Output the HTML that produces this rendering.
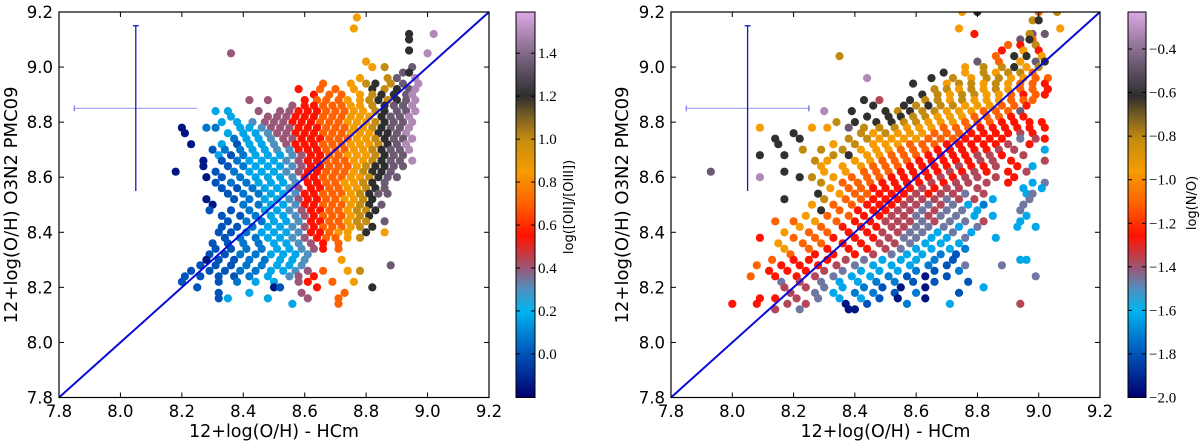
<!DOCTYPE html>
<html><head><meta charset="utf-8"><style>
html,body{margin:0;padding:0;background:#fff;}
svg{display:block;}
text{font-family:"DejaVu Sans","Liberation Sans",sans-serif;fill:#000;}
.cb{font-family:"Liberation Serif","DejaVu Serif",serif;font-size:15px;}
</style></head><body>
<svg id="fig" width="1200" height="447" viewBox="0 0 1200 447" xmlns="http://www.w3.org/2000/svg">
<defs id="defs"></defs>
</svg>
<script>
// ---------- shared data ----------
const axisTicks = [7.8, 8.0, 8.2, 8.4, 8.6, 8.8, 9.0, 9.2];
const axisTickLabels = ["7.8", "8.0", "8.2", "8.4", "8.6", "8.8", "9.0", "9.2"];
const colorKeys = ["a","b","c","d","e","f","g","h","i","j","k","l","m"];
const leftLevels = [-0.15, 0.0, 0.07, 0.17, 0.3, 0.4, 0.55, 0.7, 0.85, 1.0, 1.2, 1.35, 1.5];
const rightLevels = [-1.95, -1.80, -1.72, -1.63, -1.46, -1.37, -1.26, -1.11, -0.96, -0.81, -0.62, -0.47, -0.32];
const leftCbTicks = [0.0, 0.2, 0.4, 0.6, 0.8, 1.0, 1.2, 1.4];
const leftCbLabels = ["0.0", "0.2", "0.4", "0.6", "0.8", "1.0", "1.2", "1.4"];
const rightCbTicks = [-2.0, -1.8, -1.6, -1.4, -1.2, -1.0, -0.8, -0.6, -0.4];
const rightCbLabels = ["\u22122.0", "\u22121.8", "\u22121.6", "\u22121.4", "\u22121.2", "\u22121.0", "\u22120.8", "\u22120.6", "\u22120.4"];

// left panel: rows of y values, each with tokens "xyzC" => x = x.yz, color key C
const leftRowY = [9.18,9.14,9.12,9.10,9.06,9.05,9.02,9.00,8.98,8.96,8.94,8.92,8.90,8.88,8.86,8.84,8.82,8.80,8.78,8.76,8.74,8.72,8.70,8.68,8.66,8.64,8.62,8.60,8.58,8.56,8.54,8.52,8.50,8.48,8.46,8.44,8.42,8.40,8.38,8.36,8.34,8.32,8.30,8.28,8.26,8.24,8.22,8.20,8.18,8.16,8.14];
const leftRowPts = [
"877i","876i","902m 894k","894k","894k","836f 900m","880i","882i 886j 895l","892l 894k","887j 878i 896m 890l",
"866h 875i 880j 883k 888j 892l 897m",
"858g 865h 870h 876i 882k 886j 890k 894l 896m",
"863g 868h 872h 878i 882j 885k 889k 893l 895m",
"842f 848f 860g 864h 867h 871h 874i 878i 881j 884k 887j 890k 893l 896m",
"856f 860g 863g 866h 869h 872h 875i 878i 882j 886k 889l 892l 895m",
"831d 835d 845f 852f 855f 858g 861g 864g 867h 870h 873h 876i 879i 883j 886k 890l 893l 896m",
"836d 848f 851f 854f 857g 860g 863g 866h 869h 872h 875i 878i 881i 885k 888l 891l 894m",
"833d 838d 843e 847f 850f 853f 856g 859g 862g 865h 868h 871h 874i 877i 880i 883j 886k 889l 892l 895m",
"820a 828c 831c 839d 842d 846e 849f 852f 855f 858g 861g 864g 867h 870h 873h 876i 879i 882j 885k 888l 891l 894m",
"821a 835d 840d 844d 848e 851f 854f 857g 860g 863g 866h 869h 872h 875i 878i 881i 884k 887k 890l 893m",
"837c 841d 845d 849e 853f 856f 859g 862g 865g 868h 871h 874h 877i 880i 883j 886k 889l 892l 895m",
"823a 833d 838b 842d 846d 850e 854f 857g 860g 863g 866h 869h 872h 875i 878i 881i 884j 887k 890l 893m",
"830b 834c 839c 843d 847d 851e 855e 858g 861g 864g 867h 870h 873h 876i 879i 882j 885k 888l 891l 894m",
"832d 836b 840c 844d 848d 852d 856e 859f 862g 865g 868h 871h 874i 877i 880i 883j 886k 889l 892l",
"827a 833b 838c 842d 846d 850d 854e 858f 861g 864g 867h 870h 873h 876i 879i 882j 885k 888l 891l 895m",
"827a 835b 840c 844d 848d 852d 856e 859f 862g 865g 868h 871h 874h 877i 880j 883k 886k 889l 892l",
"818a 831b 837c 842d 846d 850d 854e 858f 861g 864g 867h 870h 873h 876i 879j 882k 885k 888l",
"828a 833b 839c 844d 848d 852d 856e 860g 863g 866h 869h 872h 875i 878i 881j 884k 887l 890l",
"831b 836c 841c 845d 849d 853d 857e 861g 864g 867h 870h 873i 876i 879j 882k 886l",
"833b 838b 843c 847d 851d 855e 858f 862g 865g 868h 871h 874i 877i 880j 883k 886l",
"835b 840c 845c 849d 853d 857e 860g 863g 866h 869h 872h 875i 878j 881k 884l 887l",
"828a 837b 842c 847d 851d 855e 858f 861g 864g 867h 870h 873i 876i 879j 882k",
"830a 840c 845c 849d 853d 857e 860g 863g 866h 869h 872h 875i 878j 881k 885l",
"829b 836b 842c 847d 851d 855e 859f 862g 865g 868h 871h 874i 877j 880j 883k",
"833b 839b 844c 849d 853d 857e 860f 863g 866h 869h 872h 875i 878j 881k",
"835b 841c 846c 850d 854d 858e 862g 865g 868h 871h 874i 877j 880j 886l",
"833b 838b 843c 848d 852d 856e 860f 863g 866h 869h 872h 875i 878j 882k",
"832b 836b 841c 846d 850d 854d 858e 862g 865g 868h 871i 874i 880k 886i",
"834b 839c 844c 848d 852d 856e 860f 864g 867h 870h 874i 878j",
"830b 835b 840c 845c 850d 854d 858e 862f 866g 871h",
"831b 836b 841c 846c 851d 855d 859e 863f 866g 871h",
"829b 834b 839c 844c 849d 853d 857d 861e",
"828a 832b 837b 842c 847c 852d 856d 860e 872i",
"826b 831b 836b 841c 846c 851d 855d 859e 888l",
"823b 829b 834b 839c 844c 849d 853d 857e 861f 866h 878j 874i",
"821b 826b 832b 837b 842c 848d 855e 858f 863g",
"820b 832b 838c 844d 850d 858f 861g 869h 876i",
"825b 850a 852b 864g 882k",
"832b 842d 873h 859f",
"832b 835d 848d 861f 871h",
"856d 871h"
];

// right panel
const rightRowY = [9.20,9.17,9.14,9.12,9.10,9.08,9.06,9.04,9.02,9.00,8.98,8.96,8.94,8.92,8.90,8.88,8.86,8.84,8.82,8.80,8.78,8.76,8.74,8.72,8.70,8.68,8.66,8.64,8.62,8.60,8.58,8.56,8.54,8.52,8.50,8.48,8.46,8.44,8.42,8.40,8.38,8.36,8.34,8.32,8.30,8.28,8.26,8.24,8.22,8.20,8.18,8.16,8.14,8.12];
const rightRowPts = [
"875i 880k 900h 906j","898j 900k","874i 907i","879g 898l 902l 897j","894l 898h 897k","890h 894g 899j","888g 895i 900g",
"835j 886h 892k 896k 901i","880l 887h 894i 899l 902k","876i 882j 888j 892k 896i 900j",
"869k 876i 882j 886i 890j 894j 898h",
"844m 865k 872j 878i 883j 887j 891i 895i 899h 903h",
"859k 870i 874j 878j 882i 886j 890i 894h 898h 902g",
"866j 870j 874i 878j 882i 886j 890i 894h 898h 903g",
"862k 867j 871i 875j 879j 883i 887i 891h 895g 899h 902g",
"843k 848f 858k 863j 867j 871i 875j 879i 883i 887i 891h 895h 898h",
"846k 856k 860j 864k 868j 872j 876i 880i 884i 888h 892h 896g",
"830m 839k 850k 854j 858k 862j 866j 870i 874i 878i 882h 886h 890h 894l",
"844k 851k 855k 859j 863j 867i 871i 875i 879h 883h 887h 891g 895g",
"834j 840k 847k 852k 856j 860j 864i 868i 872i 876h 880h 884h 888g 892g 897g 901g",
"809i 826i 831i 838l 843j 848j 853j 857i 861i 865i 869h 873h 877h 881g 885g 889g 893g 897g 902g",
"820k 842j 846i 850j 854i 858i 862i 866h 870h 874h 878g 882g 886g 890g 894f 898g",
"814k 822k 838j 844j 848i 852i 856i 860i 864h 868h 872h 876g 880g 884g 888g 894e 899f 902g",
"815k 833i 840j 846i 850i 854i 858h 862h 866h 870g 874g 878g 882g 886g 890f 897g",
"823j 829j 836j 842i 847i 851i 855h 859h 863h 867g 871g 875g 879g 883g 887f 892f 902d",
"817k 809k 833j 838k 844i 848i 852h 856h 860h 864g 868g 872g 876g 880f 884f 888g 895f",
"827j 831i 840i 845i 849h 853h 857h 861g 865g 869g 873g 877g 881f 885f 891g 902f",
"829i 836i 842i 846h 850h 854h 858g 862g 866g 870g 874f 878g 882g 886f 893g 898d",
"793l 817k 830i 837i 843h 847h 851h 855g 859g 863g 867g 871f 875g 879f 883g 890g 896f",
"809m 822k 826j 833i 839h 844h 848h 852g 856g 860g 864g 868f 872g 876f 880f 886f 892g",
"829j 836h 841h 845h 849g 853g 857g 861g 865f 869g 873f 877f 883f 890g 898d 902e",
"832i 838h 842h 846g 850g 854g 858g 862f 866g 870f 874f 880f 895d 901d",
"828k 835i 840h 844h 848g 852g 856g 860f 864g 868f 872f 876e 882f 896d 898e",
"817k 830j 837h 842h 846g 850g 854g 858f 862f 866f 870e 874f 879f 885d 897e",
"826i 833h 839h 844g 848g 852g 856f 860f 864e 868f 872e 877d 882c 895e",
"829k 835h 841g 846g 850g 854f 858f 862e 866f 870e 875e 880d 894e",
"824i 831h 838h 843g 848g 852f 856f 860e 864f 868e 873e 879d 885d 896d",
"814h 820h 827i 834h 840g 845g 850f 854f 858f 862e 866f 871e 876e 882f 894d",
"822i 829h 836g 842g 847g 852f 856f 860e 864e 869e 874d 880e 893d 899d",
"817i 825h 831h 838g 844g 849f 854f 858e 862e 867d 872e 878d",
"809g 820h 827h 833g 840g 846g 851f 856e 860e 865d 870d 876e 886d",
"815i 823h 829h 836g 842g 848f 853f 858e 863d 868d 874d",
"817i 825h 831g 838g 844g 850f 855e 860d 865d 871d 876c",
"819h 827g 833g 840g 846f 852e 857d 862d 868c 873b",
"813h 820g 825g 831g 837f 843e 849d 855d 860d 866c 872b 894d 896d",
"808h 816g 822g 828g 834f 840e 846d 852d 858d 864c 870b 876e 888e",
"812g 818g 824g 830f 836e 842d 848d 854d 860c 866b 874c",
"806h 814g 821g 827f 833e 839d 845d 851c 857b 863a 870b 899e",
"816e 822f 829e 835d 841d 847c 853c 859b 866b 877b",
"817f 824f 830e 836d 843c 849b 855a 863a 882d",
"819f 827e 833d 840c 846c 853b 860c 874b",
"809g 814g 821f 828e 835d 842d 848b 854a 863a",
"800g 808g 818f 824f 837a 844b 857c 871d 894f",
"814f 822e 838a 840a"
];

// ---------- helpers ----------
const NS = "http://www.w3.org/2000/svg";
const svg = document.getElementById("fig");
const defs = document.getElementById("defs");
function mk(tag, attrs, parent) {
  const e = document.createElementNS(NS, tag);
  for (const k in attrs) e.setAttribute(k, attrs[k]);
  (parent || svg).appendChild(e);
  return e;
}
const cmapT = [0, 0.1117, 0.2235, 0.279, 0.335, 0.419, 0.503, 0.587, 0.670, 0.726, 0.782, 0.866, 1];
const cmapC = ["#00006e","#0052b8","#00b4f0","#4c92c2","#9a5878","#ff1200","#ff6200","#f59c00","#c48c10","#7e6222","#2e2e2e","#6c5a72","#dca8e4"];
function hex2rgb(h){return [parseInt(h.substr(1,2),16),parseInt(h.substr(3,2),16),parseInt(h.substr(5,2),16)];}
function cmap(t){
  t=Math.max(0,Math.min(1,t));
  for(let i=0;i<cmapT.length-1;i++){
    if(t<=cmapT[i+1]){
      const f=(t-cmapT[i])/(cmapT[i+1]-cmapT[i]);
      const a=hex2rgb(cmapC[i]), b=hex2rgb(cmapC[i+1]);
      return "rgb("+a.map((v,k)=>Math.round(v+(b[k]-v)*f)).join(",")+")";
    }
  }
  return cmapC[cmapC.length-1];
}

function panel(cfg){
  const L=cfg.left, R=cfg.right, T=12, B=397.5;
  const xs = v => L + (v-7.8)/1.4*(R-L);
  const ys = v => B - (v-7.8)/1.4*(B-T);
  const g = mk("g", {});
  
  
  const clip = mk("clipPath", {id: cfg.name+"-clip"}, defs);
  mk("rect", {x:L, y:T, width:R-L, height:B-T}, clip);
  const pts = mk("g", {"clip-path":"url(#"+cfg.name+"-clip)"}, g);
  
  
  cfg.rowY.forEach((yv, ri) => {
    cfg.rowPts[ri].split(" ").forEach(tok => {
      if(!tok) return;
      const xv = parseFloat(tok[0]+"."+tok.substr(1,2));
      const key = tok[3];
      const lv = cfg.levels[colorKeys.indexOf(key)];
      const t = (lv - cfg.vmin)/(cfg.vmax-cfg.vmin);
      const c = mk("circle", {cx:xs(xv).toFixed(1), cy:ys(yv).toFixed(1), r:4.1, fill:cmap(t)}, pts);
      
      
    });
  });
  const d = mk("line", {x1:xs(7.8), y1:ys(7.8), x2:xs(9.2), y2:ys(9.2), stroke:"#0a0ad6", "stroke-width":2}, g);
  
  
  const eb = mk("g", {}, g);
  
  
  mk("line", {x1:xs(7.85), y1:ys(8.85), x2:xs(8.25), y2:ys(8.85), stroke:"#a8a8ff", "stroke-width":1.3}, eb);
  mk("line", {x1:xs(7.85), y1:ys(8.85)-3, x2:xs(7.85), y2:ys(8.85)+3, stroke:"#8888ee", "stroke-width":1.3}, eb);
  if(cfg.rightCap) mk("line", {x1:xs(8.25), y1:ys(8.85)-3, x2:xs(8.25), y2:ys(8.85)+3, stroke:"#6a6ae0", "stroke-width":1.3}, eb);
  mk("line", {x1:xs(8.05), y1:ys(8.55), x2:xs(8.05), y2:ys(9.15), stroke:"#1515c8", "stroke-width":1.3}, eb);
  mk("line", {x1:xs(8.05)-3, y1:ys(9.15), x2:xs(8.05)+3, y2:ys(9.15), stroke:"#1515c8", "stroke-width":1.3}, eb);
  const fr = mk("rect", {x:L, y:T, width:R-L, height:B-T, fill:"none", stroke:"#000", "stroke-width":1.2}, g);
  
  
  axisTicks.forEach((v,i) => {
    const x = xs(v), y = ys(v);
    mk("line", {x1:x, y1:B, x2:x, y2:B-5, stroke:"#000"}, g);
    mk("line", {x1:x, y1:T, x2:x, y2:T+5, stroke:"#000"}, g);
    mk("line", {x1:L, y1:y, x2:L+5, y2:y, stroke:"#000"}, g);
    mk("line", {x1:R, y1:y, x2:R-5, y2:y, stroke:"#000"}, g);
    const tx = mk("text", {x:x, y:417, "font-size":16.5, "text-anchor":"middle"}, g);
    tx.textContent = axisTickLabels[i];
    
    
    const ty = mk("text", {x:L-6, y:y+6, "font-size":16.5, "text-anchor":"end"}, g);
    ty.textContent = axisTickLabels[i];
    
    
  });
  const xt = mk("text", {x:(L+R)/2, y:437, "font-size":17.5, "text-anchor":"middle"}, g);
  xt.textContent = "12+log(O/H) - HCm";
  
  
  const yt = mk("text", {x:0, y:0, "font-size":18, "text-anchor":"middle", transform:"translate("+(cfg.ytX)+",205) rotate(-90)"}, g);
  yt.textContent = "12+log(O/H) O3N2 PMC09";
  
  
  const cbL = cfg.cbL, cbR = cfg.cbR;
  const grad = mk("linearGradient", {id:cfg.name+"-grad", x1:0, y1:1, x2:0, y2:0}, defs);
  cmapT.forEach((t,i) => mk("stop", {offset:t, "stop-color":cmapC[i]}, grad));
  const cb = mk("g", {}, g);
  
  
  mk("rect", {x:cbL, y:T, width:cbR-cbL, height:B-T, fill:"url(#"+cfg.name+"-grad)", stroke:"#000", "stroke-width":1}, cb);
  const cy = v => B - (v-cfg.vmin)/(cfg.vmax-cfg.vmin)*(B-T);
  cfg.cbTicks.forEach((v,i) => {
    const y = cy(v);
    mk("line", {x1:cbL, y1:y, x2:cbL+4, y2:y, stroke:"#000"}, cb);
    mk("line", {x1:cbR, y1:y, x2:cbR-4, y2:y, stroke:"#000"}, cb);
    const tl = mk("text", {x:cbR+3, y:y+5, class:"cb"}, cb);
    tl.textContent = cfg.cbLabels[i];
    
    
  });
  const ct = mk("text", {x:0, y:0, "font-size":13, "text-anchor":"middle", transform:"translate("+cfg.cbTitleX+","+cfg.cbTitleY+") rotate(-90)"}, cb);
  ct.textContent = cfg.cbTitle;
  
  
}

panel({name:"left-panel", left:59, right:489, rowY:leftRowY, rowPts:leftRowPts, levels:leftLevels,
  vmin:-0.203, vmax:1.592, cbTicks:leftCbTicks, cbLabels:leftCbLabels, cbL:516, cbR:535,
  cbTitle:"log([OII]/[OIII])", cbTitleX:573, cbTitleY:207, ytX:17, rightCap:false});
panel({name:"right-panel", left:671, right:1100, rowY:rightRowY, rowPts:rightRowPts, levels:rightLevels,
  vmin:-2.0, vmax:-0.23, cbTicks:rightCbTicks, cbLabels:rightCbLabels, cbL:1128, cbR:1146,
  cbTitle:"log(N/O)", cbTitleX:1196, cbTitleY:203, ytX:628, rightCap:true});
</script>
</body></html>
